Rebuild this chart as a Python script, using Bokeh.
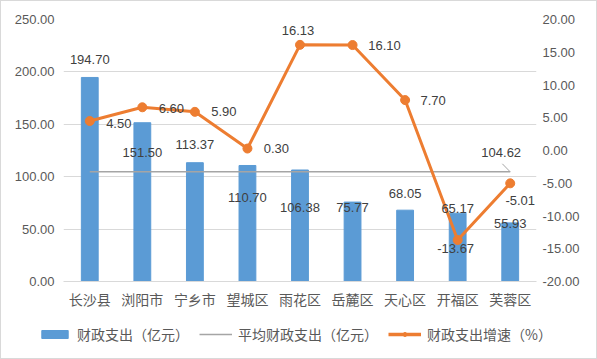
from bokeh.plotting import figure
from bokeh.layouts import column
from bokeh.models import (ColumnDataSource, Range1d, LinearAxis, FactorRange, LabelSet,
                          Legend, LegendItem, SingleIntervalTicker, NumeralTickFormatter)
from bokeh.core.properties import value
from bokeh.transform import dodge
from bokeh.embed import file_html
from bokeh.resources import INLINE
import numpy as np

# ---- data ----
districts = ["长沙县", "浏阳市", "宁乡市", "望城区", "雨花区", "岳麓区", "天心区", "开福区", "芙蓉区"]
spending = [194.70, 151.50, 113.37, 110.70, 106.38, 75.77, 68.05, 65.17, 55.93]   # 亿元
growth = [4.50, 6.60, 5.90, 0.30, 16.13, 16.10, 7.70, -13.67, -5.01]              # %
series_names = ["财政支出（亿元）", "平均财政支出（亿元）", "财政支出增速（%）"]

# ---- label placement (screen px, style only) ----
bar_label_dy = [18, -30, 18, -32, -37, -5, 17, 5, -1]
growth_label_dx = [29, 29, 29, 29, -2, 32, 28, -2, 10]
growth_label_dy = [-2, -1, 0, 0, 14, 0, 0, -8, -17]

BLUE = "#5B9BD5"
ORANGE = "#ED7D31"
GREY = "#A5A5A5"
GRID = "#D9D9D9"
TXT = "#595959"
LBL = "#404040"
NUMFONT = "Liberation Sans"
CJK = "Noto Sans CJK SC"

avg = float(np.mean(spending))

src = ColumnDataSource(dict(
    x=districts, s=spending, g=growth,
    s_txt=[f"{v:.2f}" for v in spending],
    g_txt=[f"{v:.2f}" for v in growth],
    bdy=bar_label_dy, gdx=growth_label_dx, gdy=growth_label_dy,
))

p = figure(width=595, height=312, x_range=FactorRange(*districts), y_range=Range1d(0, 250),
           output_backend="svg", toolbar_location=None,
           min_border_left=62, min_border_right=60, min_border_top=18, min_border_bottom=32)
p.frame_align = False
p.extra_y_ranges = {"rate": Range1d(-20, 20)}
p.outline_line_color = None

bars = p.vbar(x="x", top="s", width=0.32, source=src, color=BLUE)

avg_src = ColumnDataSource(dict(x=[districts[0], districts[-1]], y=[avg, avg]))
avg_line = p.line(x="x", y="y", source=avg_src, color=GREY, line_width=1.5)

gl = p.line(x="x", y="g", source=src, color=ORANGE, line_width=3, y_range_name="rate")
gp = p.scatter(x="x", y="g", source=src, color=ORANGE, size=9, y_range_name="rate")

# value labels
p.add_layout(LabelSet(x="x", y="s", text="s_txt", source=src, y_offset="bdy",
                      text_align="center", text_baseline="middle",
                      text_font=value(NUMFONT), text_font_size="13px", text_color=LBL))
p.add_layout(LabelSet(x="x", y="g", text="g_txt", source=src, x_offset="gdx", y_offset="gdy",
                      y_range_name="rate", text_align="center", text_baseline="middle",
                      text_font=value(NUMFONT), text_font_size="13px", text_color=LBL))

# average label with leader line
lead_src = ColumnDataSource(dict(x=[districts[-1]], y0=[avg], y1=[avg + 7.7], t=[f"{avg:.2f}"]))
p.segment(x0=dodge("x", 0.0, range=p.x_range), y0="y0", x1=dodge("x", -0.15, range=p.x_range),
          y1="y1", source=lead_src, color=GREY, line_width=1)
p.add_layout(LabelSet(x="x", y="y0", text="t", source=lead_src, x_offset=-9, y_offset=19,
                      text_align="center", text_baseline="middle",
                      text_font=value(NUMFONT), text_font_size="13px", text_color=LBL))

# axes
ya = p.yaxis[0]
ya.ticker = SingleIntervalTicker(interval=50)
ya.formatter = NumeralTickFormatter(format="0.00")
ra = LinearAxis(y_range_name="rate", ticker=SingleIntervalTicker(interval=5),
                formatter=NumeralTickFormatter(format="0.00"))
p.add_layout(ra, "right")
for ax in (ya, ra):
    ax.axis_line_color = None
    ax.major_tick_line_color = None
    ax.minor_tick_line_color = None
    ax.major_tick_out = 0
    ax.major_tick_in = 0
    ax.minor_tick_out = 0
    ax.major_label_text_font = NUMFONT
    ax.major_label_text_font_size = "13px"
    ax.major_label_text_color = TXT
ya.major_label_standoff = 9
ra.major_label_standoff = 6

xa = p.xaxis[0]
xa.axis_line_color = GRID
xa.major_tick_line_color = None
xa.minor_tick_line_color = None
xa.major_tick_out = 0
xa.major_tick_in = 0
xa.major_label_text_font = CJK
xa.major_label_text_font_size = "14px"
xa.major_label_text_color = TXT
xa.major_label_standoff = 7

p.xgrid.grid_line_color = None
p.ygrid.grid_line_color = GRID
p.ygrid.grid_line_width = 1

# ---- legend strip ----
lf = figure(width=595, height=45, x_range=Range1d(0, 1), y_range=Range1d(0, 1),
            output_backend="svg", toolbar_location=None,
            min_border_left=0, min_border_right=0, min_border_top=0, min_border_bottom=0,
            x_axis_location=None, y_axis_location=None)
lf.frame_align = False
lf.outline_line_color = None
lf.grid.grid_line_color = None
dummy = ColumnDataSource(dict(x=[-5.0], y=[-5.0], top=[-5.0]))   # off-screen, legend swatches only
r1 = lf.vbar(x="x", top="top", width=0.5, source=dummy, color=BLUE)
r2 = lf.line(x="x", y="y", source=dummy, color=GREY, line_width=1.5)
r3 = lf.line(x="x", y="y", source=dummy, color=ORANGE, line_width=3.5)
r4 = lf.scatter(x="x", y="y", source=dummy, color=ORANGE, size=10)
legend = Legend(items=[
    LegendItem(label=series_names[0], renderers=[r1]),
    LegendItem(label=series_names[1], renderers=[r2]),
    LegendItem(label=series_names[2], renderers=[r3, r4]),
], orientation="horizontal", location=(37, 14), border_line_color=None,
    background_fill_alpha=0, label_text_font=CJK, label_text_font_size="14px",
    label_text_color=TXT, glyph_width=33, glyph_height=10, spacing=10, label_standoff=6,
    padding=0, margin=0)
lf.add_layout(legend, "center")

layout = column(p, lf, spacing=0, styles={"border": "1px solid #D9D9D9"})
open("out.html", "w").write(file_html(layout, INLINE))
